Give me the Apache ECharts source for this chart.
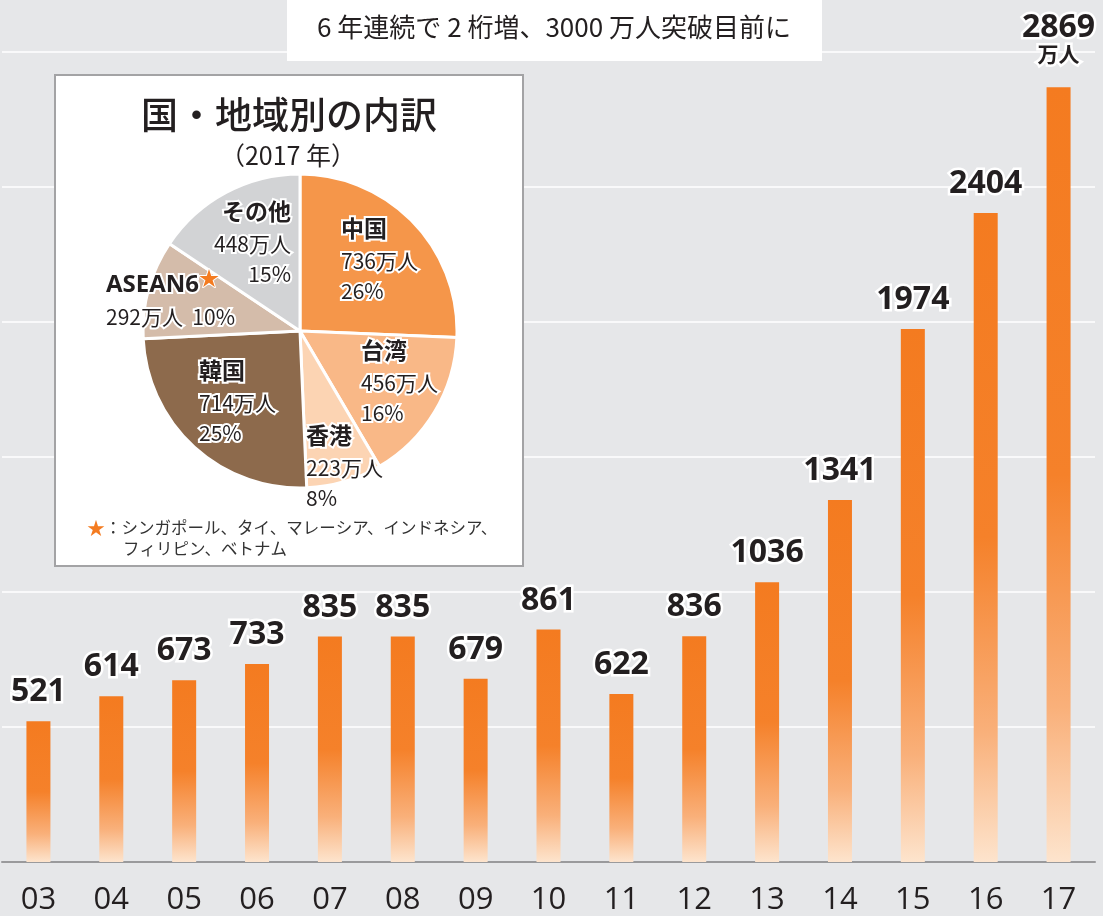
<!DOCTYPE html>
<html><head><meta charset="utf-8">
<script src="https://cdn.jsdelivr.net/npm/echarts@6/dist/echarts.min.js"></script>
<style>html,body{margin:0;padding:0;background:#e6e7e9;}#c{width:1103px;height:916px;}</style>
</head><body><div id="c"></div>
<script>
// ---- data ----
const years = ['03','04','05','06','07','08','09','10','11','12','13','14','15','16','17'];
const visitors = [521,614,673,733,835,835,679,861,622,836,1036,1341,1974,2404,2869];
const pieNames = ['中国','台湾','香港','韓国','ASEAN6','その他'];
const pieValues = [736,456,223,714,292,448];
const piePct = [26,16,8,25,10,15];
const pieColors = ['#f5964a','#f9b887','#fcd4b3','#8d6a4c','#d4bcaa','#d2d3d5'];
const yTicks = [0,500,1000,1500,2000,2500,3000];

const JP = '"Noto Sans CJK JP", "Noto Sans", sans-serif';
const NUM = '"Open Sans", "Noto Sans", sans-serif';

const pieCenter = [300, 331];
// label block offsets relative to pie center (left/top or right/top)
const pieLabelPos = [
  [41, -121, 'left'],
  [61, 1, 'left'],
  [6, 86, 'left'],
  [-101, 21, 'left'],
  [-194, -63, 'left'],
  [-9, -138, 'right']
];

const barGradient = new echarts.graphic.LinearGradient(0,0,0,1,[
  {offset:0, color:'#f47b20'},
  {offset:0.5, color:'#f5812a'},
  {offset:0.8, color:'#f9b07a'},
  {offset:1, color:'#fde4cd'}
]);

const barData = visitors.map((v,i)=>({
  value: v,
  label: i === visitors.length-1 ? {distance: 21} : {}
}));

const chart = echarts.init(document.getElementById('c'), null, {renderer:'canvas'});
chart.setOption({
  backgroundColor:'#e6e7e9',
  animation:false,
  grid:{left:2, right:8, top:52, bottom:52},
  xAxis:{
    type:'category', data:years,
    axisLine:{lineStyle:{color:'#9a9a9c', width:2}},
    axisTick:{show:false},
    axisLabel:{fontSize:31, color:'#231f20', fontFamily:NUM, margin:23}
  },
  yAxis:{
    type:'value', min:yTicks[0], max:yTicks[yTicks.length-1], interval:500,
    axisLabel:{show:false}, axisLine:{show:false}, axisTick:{show:false},
    splitLine:{lineStyle:{color:'#ffffff', width:1.5}}
  },
  graphic:[
    {type:'rect', z:10, shape:{x:287, y:-2, width:535, height:63}, style:{fill:'#ffffff'}},
    {type:'text', z:11, style:{text:'6 年連続で 2 桁増、3000 万人突破目前に', x:554, y:27, align:'center', verticalAlign:'middle', font:'26px '+JP, fill:'#231f20'}},
    {type:'rect', z:10, shape:{x:55, y:75, width:468, height:491}, style:{fill:'#ffffff', stroke:'#a3a3a5', lineWidth:2}},
    {type:'text', z:11, style:{text:'国・地域別の内訳', x:289, y:115, align:'center', verticalAlign:'middle', font:'500 37px '+JP, fill:'#231f20'}},
    {type:'text', z:11, style:{text:'（2017 年）', x:288, y:155, align:'center', verticalAlign:'middle', font:'25px '+JP, fill:'#231f20'}},
    {type:'text', z:11, style:{text:'★', x:87, y:528, align:'left', verticalAlign:'middle', font:'18px '+JP, fill:'#f47b20'}},
    {type:'text', z:11, style:{text:'：シンガポール、タイ、マレーシア、インドネシア、', x:105, y:528, align:'left', verticalAlign:'middle', font:'16.5px '+JP, fill:'#333333'}},
    {type:'text', z:11, style:{text:'フィリピン、ベトナム', x:123, y:549, align:'left', verticalAlign:'middle', font:'16.5px '+JP, fill:'#333333'}}
  ],
  series:[
    {
      type:'bar', data:barData, barWidth:24,
      itemStyle:{color:barGradient},
      label:{
        show:true, position:'top', distance:13,
        fontFamily:NUM, fontWeight:'bold', fontSize:32, color:'#231f20',
        textBorderColor:'#ffffff', textBorderWidth:5,
        formatter:(p)=> p.dataIndex === visitors.length-1 ? '{v|'+p.value+'}\n{u|万人}' : String(p.value),
        rich:{
          v:{fontFamily:NUM, fontWeight:'bold', fontSize:32, color:'#231f20', textBorderColor:'#fff', textBorderWidth:5, lineHeight:28},
          u:{fontFamily:JP, fontWeight:'bold', fontSize:21, color:'#231f20', textBorderColor:'#fff', textBorderWidth:5, lineHeight:24}
        }
      }
    },
    {
      type:'pie', z:20, center:pieCenter, radius:157, startAngle:90, clockwise:true,
      data: pieNames.map((n,i)=>({name:n, value:pieValues[i], itemStyle:{color:pieColors[i]}})),
      itemStyle:{borderColor:'#ffffff', borderWidth:3},
      labelLine:{show:false},
      label:{
        show:true, position:'inside', color:'#231f20',
        textBorderColor:'#ffffff', textBorderWidth:4,
        formatter:(p)=>{
          const i = p.dataIndex;
          if (pieNames[i] === 'ASEAN6') return '{a|ASEAN6}{s|★}\n{v|'+pieValues[i]+'万人  '+piePct[i]+'%}';
          return '{n|'+pieNames[i]+'}\n{v|'+pieValues[i]+'万人}\n{v|'+piePct[i]+'%}';
        },
        rich:{
          n:{fontFamily:JP, fontWeight:'bold', fontSize:23, lineHeight:36, color:'#231f20', textBorderColor:'#fff', textBorderWidth:4},
          a:{fontFamily:NUM, fontWeight:'bold', fontSize:24, lineHeight:34, color:'#231f20', textBorderColor:'#fff', textBorderWidth:4},
          s:{fontFamily:JP, fontSize:20, lineHeight:34, color:'#f47b20', textBorderColor:'#fff', textBorderWidth:2, verticalAlign:'top'},
          v:{fontFamily:JP, fontSize:21, lineHeight:30, color:'#231f20', textBorderColor:'#fff', textBorderWidth:4}
        }
      },
      labelLayout:(params)=>{
        const o = pieLabelPos[params.dataIndex];
        return {x: pieCenter[0]+o[0], y: pieCenter[1]+o[1], align:o[2], verticalAlign:'top'};
      }
    }
  ]
});
</script></body></html>
